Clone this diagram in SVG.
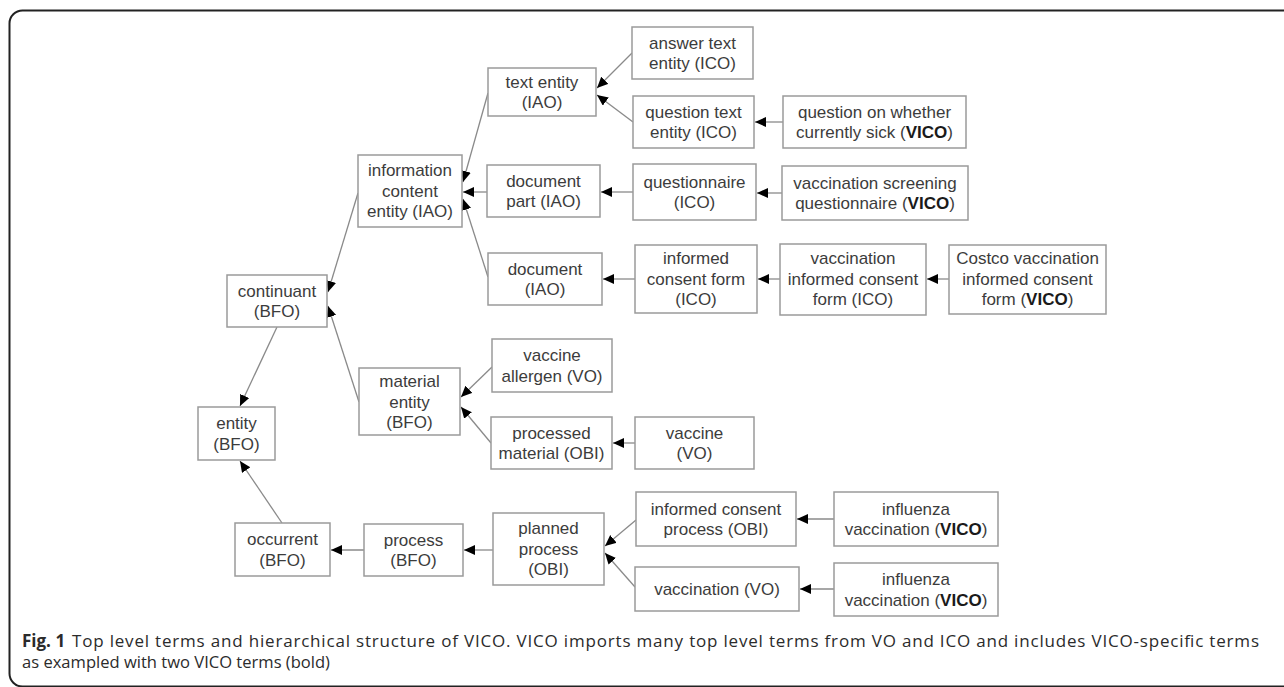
<svg xmlns="http://www.w3.org/2000/svg" width="1284" height="687" viewBox="0 0 1284 687">
<style>
.box{fill:#fff;stroke:#9a9a9a;stroke-width:1.5}
.t{font-family:"Liberation Sans",Arial,sans-serif;font-size:17px;fill:#3c3c3c;text-anchor:middle}
.b{font-weight:bold;fill:#1a1a1a}
.e{fill:none;stroke:#8a8a8a;stroke-width:1.3;marker-end:url(#ah)}
.cap{font-family:"Open Sans","Noto Sans",sans-serif;font-size:17px;fill:#2b2b2b}
</style>
<defs>
<marker id="ah" markerUnits="userSpaceOnUse" markerWidth="12" markerHeight="11" refX="11" refY="5" orient="auto">
<path d="M0,0 L11,5 L0,10 z" fill="#000"/>
</marker>
</defs>
<rect x="9.5" y="10.5" width="1290" height="676" rx="13" fill="none" stroke="#222" stroke-width="2"/>
<g id="connectors">
<line class="e" x1="632" y1="53" x2="597" y2="88"/>
<line class="e" x1="633" y1="122" x2="597" y2="95"/>
<line class="e" x1="783" y1="122" x2="755" y2="122"/>
<line class="e" x1="488" y1="93" x2="463" y2="182"/>
<line class="e" x1="487" y1="192" x2="463" y2="192"/>
<line class="e" x1="633" y1="192" x2="601" y2="192"/>
<line class="e" x1="782" y1="193" x2="757" y2="193"/>
<line class="e" x1="488" y1="277" x2="463" y2="199"/>
<line class="e" x1="635" y1="279" x2="603" y2="279"/>
<line class="e" x1="780" y1="279" x2="758" y2="279"/>
<line class="e" x1="949" y1="279" x2="927" y2="279"/>
<line class="e" x1="358" y1="193" x2="328" y2="292"/>
<line class="e" x1="359" y1="402" x2="328" y2="306"/>
<line class="e" x1="277" y1="327" x2="240" y2="406"/>
<line class="e" x1="492" y1="367" x2="461" y2="397"/>
<line class="e" x1="491" y1="443" x2="461" y2="407"/>
<line class="e" x1="635" y1="443" x2="613" y2="443"/>
<line class="e" x1="282" y1="523" x2="240" y2="461"/>
<line class="e" x1="364" y1="550" x2="331" y2="550"/>
<line class="e" x1="493" y1="550" x2="464" y2="550"/>
<line class="e" x1="636" y1="520" x2="605" y2="546"/>
<line class="e" x1="635" y1="587" x2="605" y2="553"/>
<line class="e" x1="834" y1="519" x2="797" y2="519"/>
<line class="e" x1="834" y1="589" x2="800" y2="589"/>
</g>
<g id="n_answer"><rect class="box" x="632" y="27" width="121" height="52"/><text class="t" x="692.5" y="48.5">answer text<tspan x="692.5" y="69">entity (ICO)</tspan></text></g>
<g id="n_text"><rect class="box" x="488" y="68" width="108" height="48"/><text class="t" x="542" y="87.5">text entity<tspan x="542" y="108">(IAO)</tspan></text></g>
<g id="n_qtext"><rect class="box" x="633" y="96" width="121" height="52"/><text class="t" x="693.5" y="117.5">question text<tspan x="693.5" y="138">entity (ICO)</tspan></text></g>
<g id="n_qsick"><rect class="box" x="783" y="96" width="183" height="52"/><text class="t" x="874.5" y="117.5">question on whether<tspan x="874.5" y="138">currently sick (<tspan class="b">VICO</tspan>)</tspan></text></g>
<g id="n_ice"><rect class="box" x="358" y="155" width="104" height="72"/><text class="t" x="410" y="176">information<tspan x="410" y="196.7">content</tspan><tspan x="410" y="217.3">entity (IAO)</tspan></text></g>
<g id="n_docpart"><rect class="box" x="487" y="165" width="113" height="52"/><text class="t" x="543.5" y="186.5">document<tspan x="543.5" y="207">part (IAO)</tspan></text></g>
<g id="n_questionnaire"><rect class="box" x="633" y="164" width="123" height="56"/><text class="t" x="694.5" y="187.5">questionnaire<tspan x="694.5" y="208">(ICO)</tspan></text></g>
<g id="n_vsq"><rect class="box" x="782" y="166" width="186" height="54"/><text class="t" x="875" y="188.5">vaccination screening<tspan x="875" y="209">questionnaire (<tspan class="b">VICO</tspan>)</tspan></text></g>
<g id="n_document"><rect class="box" x="488" y="253" width="114" height="52"/><text class="t" x="545" y="274.5">document<tspan x="545" y="295">(IAO)</tspan></text></g>
<g id="n_icf"><rect class="box" x="635" y="245" width="122" height="68"/><text class="t" x="696" y="264">informed<tspan x="696" y="284.7">consent form</tspan><tspan x="696" y="305.3">(ICO)</tspan></text></g>
<g id="n_vicf"><rect class="box" x="780" y="244" width="146" height="71"/><text class="t" x="853" y="264">vaccination<tspan x="853" y="284.7">informed consent</tspan><tspan x="853" y="305.3">form (ICO)</tspan></text></g>
<g id="n_costco"><rect class="box" x="949" y="245" width="157" height="69"/><text class="t" x="1027.5" y="264">Costco vaccination<tspan x="1027.5" y="284.7">informed consent</tspan><tspan x="1027.5" y="305.3">form (<tspan class="b">VICO</tspan>)</tspan></text></g>
<g id="n_continuant"><rect class="box" x="227" y="275" width="100" height="52"/><text class="t" x="277" y="296.5">continuant<tspan x="277" y="317">(BFO)</tspan></text></g>
<g id="n_material"><rect class="box" x="359" y="368" width="101" height="67"/><text class="t" x="409.5" y="387">material<tspan x="409.5" y="407.7">entity</tspan><tspan x="409.5" y="428.3">(BFO)</tspan></text></g>
<g id="n_allergen"><rect class="box" x="492" y="339" width="120" height="53"/><text class="t" x="552" y="361">vaccine<tspan x="552" y="381.5">allergen (VO)</tspan></text></g>
<g id="n_processed"><rect class="box" x="491" y="417" width="121" height="52"/><text class="t" x="551.5" y="438.5">processed<tspan x="551.5" y="459">material (OBI)</tspan></text></g>
<g id="n_vaccine"><rect class="box" x="635" y="417" width="119" height="52"/><text class="t" x="694.5" y="438.5">vaccine<tspan x="694.5" y="459">(VO)</tspan></text></g>
<g id="n_entity"><rect class="box" x="198" y="407" width="77" height="53"/><text class="t" x="236.5" y="429">entity<tspan x="236.5" y="449.5">(BFO)</tspan></text></g>
<g id="n_occurrent"><rect class="box" x="235" y="523" width="95" height="53"/><text class="t" x="282.5" y="545">occurrent<tspan x="282.5" y="565.5">(BFO)</tspan></text></g>
<g id="n_process"><rect class="box" x="364" y="524" width="99" height="52"/><text class="t" x="413.5" y="545.5">process<tspan x="413.5" y="566">(BFO)</tspan></text></g>
<g id="n_planned"><rect class="box" x="493" y="513" width="111" height="72"/><text class="t" x="548.5" y="534">planned<tspan x="548.5" y="554.7">process</tspan><tspan x="548.5" y="575.3">(OBI)</tspan></text></g>
<g id="n_icp"><rect class="box" x="636" y="492" width="160" height="54"/><text class="t" x="716" y="514.5">informed consent<tspan x="716" y="535">process (OBI)</tspan></text></g>
<g id="n_vacc"><rect class="box" x="635" y="567" width="164" height="44"/><text class="t" x="717" y="595">vaccination (VO)</text></g>
<g id="n_flu1"><rect class="box" x="834" y="492" width="164" height="54"/><text class="t" x="916" y="514.5">influenza<tspan x="916" y="535">vaccination (<tspan class="b">VICO</tspan>)</tspan></text></g>
<g id="n_flu2"><rect class="box" x="834" y="563" width="164" height="53"/><text class="t" x="916" y="585">influenza<tspan x="916" y="605.5">vaccination (<tspan class="b">VICO</tspan>)</tspan></text></g>
<g id="caption">
<text class="cap" x="22" y="647" font-weight="bold">Fig. 1</text>
<text class="cap" x="72" y="647" textLength="1187" lengthAdjust="spacing">Top level terms and hierarchical structure of VICO. VICO imports many top level terms from VO and ICO and includes VICO-specific terms</text>
<text class="cap" x="22" y="668" textLength="308" lengthAdjust="spacingAndGlyphs">as exampled with two VICO terms (bold)</text>
</g>
</svg>
